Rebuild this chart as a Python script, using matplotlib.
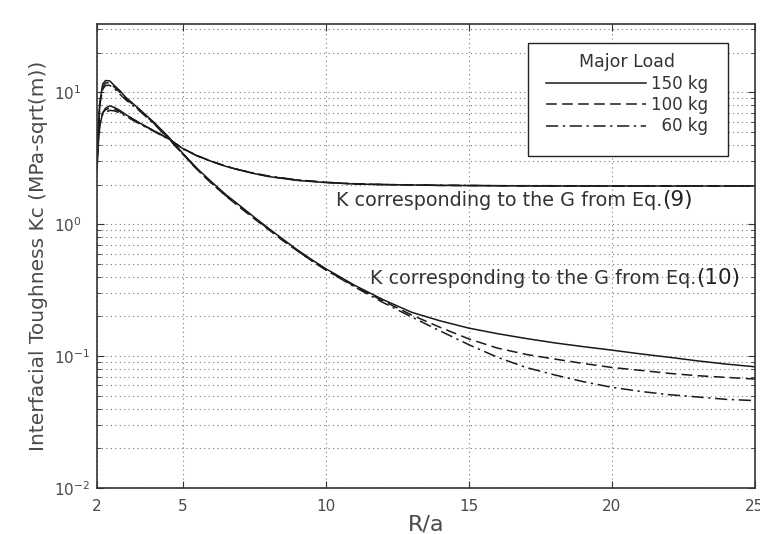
import numpy as np
import matplotlib.pyplot as plt
from matplotlib.patches import Rectangle
from matplotlib.ticker import LogLocator, FixedLocator

# R/a positions
x_eq9 = [2.0, 2.05, 2.1, 2.2, 2.3, 2.45, 2.6, 2.8, 3.0, 3.5, 4.0, 4.5, 5.0, 5.5, 6.0,
         6.5, 7.0, 7.5, 8.0, 9.0, 10.0, 11.0, 12.0, 14.0, 16.0, 18.0, 20.0, 22.0, 25.0]
x_eq10 = [2.0, 2.05, 2.1, 2.2, 2.3, 2.45, 2.6, 2.8, 3.0, 3.5, 4.0, 4.5, 5.0, 5.5, 6.0,
          6.5, 7.0, 7.5, 8.0, 8.5, 9.0, 9.5, 10.0, 11.0, 12.0, 13.0, 14.0, 15.0, 16.0,
          17.0, 18.0, 19.0, 20.0, 21.0, 22.0, 23.0, 24.0, 25.0]

# K from Eq.(9)
k9_150 = [2.6, 4.2, 5.6, 7.0, 7.6, 7.9, 7.7, 7.3, 6.8, 5.85, 5.1, 4.45, 3.75, 3.3, 3.0,
          2.75, 2.57, 2.42, 2.3, 2.15, 2.07, 2.02, 2.0, 1.97, 1.96, 1.95, 1.95, 1.95, 1.95]
k9_100 = [2.9, 4.6, 5.9, 7.0, 7.4, 7.6, 7.5, 7.15, 6.7, 5.8, 5.1, 4.45, 3.75, 3.32, 3.0,
          2.75, 2.57, 2.43, 2.31, 2.16, 2.08, 2.02, 2.0, 1.97, 1.96, 1.95, 1.95, 1.95, 1.95]
k9_60 = [3.3, 4.9, 6.0, 6.8, 7.1, 7.3, 7.25, 7.0, 6.6, 5.75, 5.05, 4.42, 3.75, 3.3, 3.0,
         2.76, 2.58, 2.44, 2.32, 2.17, 2.08, 2.03, 2.0, 1.98, 1.96, 1.96, 1.95, 1.95, 1.95]

# K from Eq.(10)
k10_150 = [2.8, 5.5, 8.5, 11.6, 12.3, 12.2, 11.3, 10.3, 9.2, 7.4, 5.9, 4.6, 3.45, 2.65, 2.1,
           1.68, 1.38, 1.13, 0.93, 0.77, 0.64, 0.54, 0.46, 0.345, 0.268, 0.215, 0.185, 0.163,
           0.148, 0.136, 0.126, 0.118, 0.111, 0.104, 0.098, 0.092, 0.087, 0.083]
k10_100 = [2.6, 5.0, 8.0, 11.0, 11.8, 11.8, 11.0, 10.0, 9.0, 7.3, 5.8, 4.5, 3.4, 2.6, 2.05,
           1.64, 1.34, 1.1, 0.91, 0.75, 0.63, 0.53, 0.45, 0.34, 0.262, 0.205, 0.165, 0.135,
           0.115, 0.103, 0.095, 0.088, 0.082, 0.078, 0.074, 0.071, 0.069, 0.067]
k10_60 = [3.0, 5.8, 8.2, 10.6, 11.3, 11.3, 10.7, 9.7, 8.8, 7.2, 5.75, 4.45, 3.4, 2.6, 2.05,
          1.65, 1.35, 1.11, 0.92, 0.76, 0.63, 0.53, 0.45, 0.335, 0.255, 0.198, 0.155, 0.122,
          0.098, 0.082, 0.072, 0.064, 0.058, 0.054, 0.051, 0.049, 0.047, 0.046]

loads = ['150 kg', '100 kg', '  60 kg']
x_ticks = [2, 5, 10, 15, 20, 25]

line_col = '#1a1a1a'
text_col = '#4a4a4a'
styles = [dict(linestyle='-'),
          dict(linestyle=(0, (7, 3.5))),
          dict(linestyle=(0, (8, 3, 1.5, 3)))]

plt.rcParams['mathtext.default'] = 'regular'

fig = plt.figure(figsize=(7.6, 5.34), dpi=100)
ax = fig.add_axes([97 / 760, 46 / 534, 658 / 760, 464 / 534])

curves9 = [k9_150, k9_100, k9_60]
curves10 = [k10_150, k10_100, k10_60]
for i in range(3):
    ax.plot(x_eq9, curves9[i], color=line_col, lw=1.1, label=loads[i], **styles[i])
    ax.plot(x_eq10, curves10[i], color=line_col, lw=1.1, **styles[i])

ax.set_yscale('log')
ax.set_xlim(2, 25)
ax.set_ylim(0.01, 33)
ax.xaxis.set_major_locator(FixedLocator(x_ticks))
ax.set_xticklabels([str(t) for t in x_ticks])
ax.yaxis.set_major_locator(LogLocator(base=10, numticks=10))
ax.yaxis.set_minor_locator(LogLocator(base=10, subs=np.arange(2, 10), numticks=20))

# dotted matlab-ish grid
grid_kw = dict(color='#7a7a7a', linestyle=(0, (1, 3)), linewidth=0.8)
ax.grid(True, which='major', axis='both', **grid_kw)
ax.grid(True, which='minor', axis='y', **grid_kw)

ax.tick_params(which='both', direction='in', top=True, right=True, colors='#333333',
               labelcolor=text_col, labelsize=11)
ax.tick_params(which='major', length=5)
ax.tick_params(which='minor', length=3)
ax.tick_params(axis='x', pad=8)
ax.tick_params(axis='y', pad=31)
for lbl in ax.get_yticklabels():
    lbl.set_horizontalalignment('left')
for sp in ax.spines.values():
    sp.set_color('#333333')
    sp.set_linewidth(1.2)

ax.set_xlabel('R/a', fontsize=16, color=text_col, labelpad=0)
ax.set_ylabel('Interfacial Toughness Kc (MPa-sqrt(m))', fontsize=14.5, color=text_col,
              labelpad=4)

# curve annotations
t9 = ax.text(10.35, 1.52, 'K corresponding to the G from Eq.', fontsize=13.8,
             color='#333333', va='center')
ax.annotate('(9)', xy=(1, 0.5), xycoords=t9, va='center', fontsize=15.5, color='#222222')
t10 = ax.text(11.55, 0.39, 'K corresponding to the G from Eq.', fontsize=13.8,
              color='#333333', va='center')
ax.annotate('(10)', xy=(1, 0.5), xycoords=t10, va='center', fontsize=15.5, color='#222222')

# legend box drawn separately so it can have the extra room at the bottom
box = Rectangle((0.655, 0.716), 0.304, 0.243, transform=ax.transAxes, facecolor='white',
                edgecolor='#222222', linewidth=1.0, zorder=4)
ax.add_patch(box)
leg = ax.legend(title='Major Load', loc='upper left', bbox_to_anchor=(0.667, 0.959),
                borderaxespad=0, frameon=False, fontsize=12, title_fontsize=12.5,
                handlelength=6.0, handletextpad=0.3, labelspacing=0.2, borderpad=0.62)
leg.set_zorder(5)
for t in leg.get_texts():
    t.set_color('#333333')
leg.get_title().set_color('#333333')

plt.savefig('out.png', dpi=100)
